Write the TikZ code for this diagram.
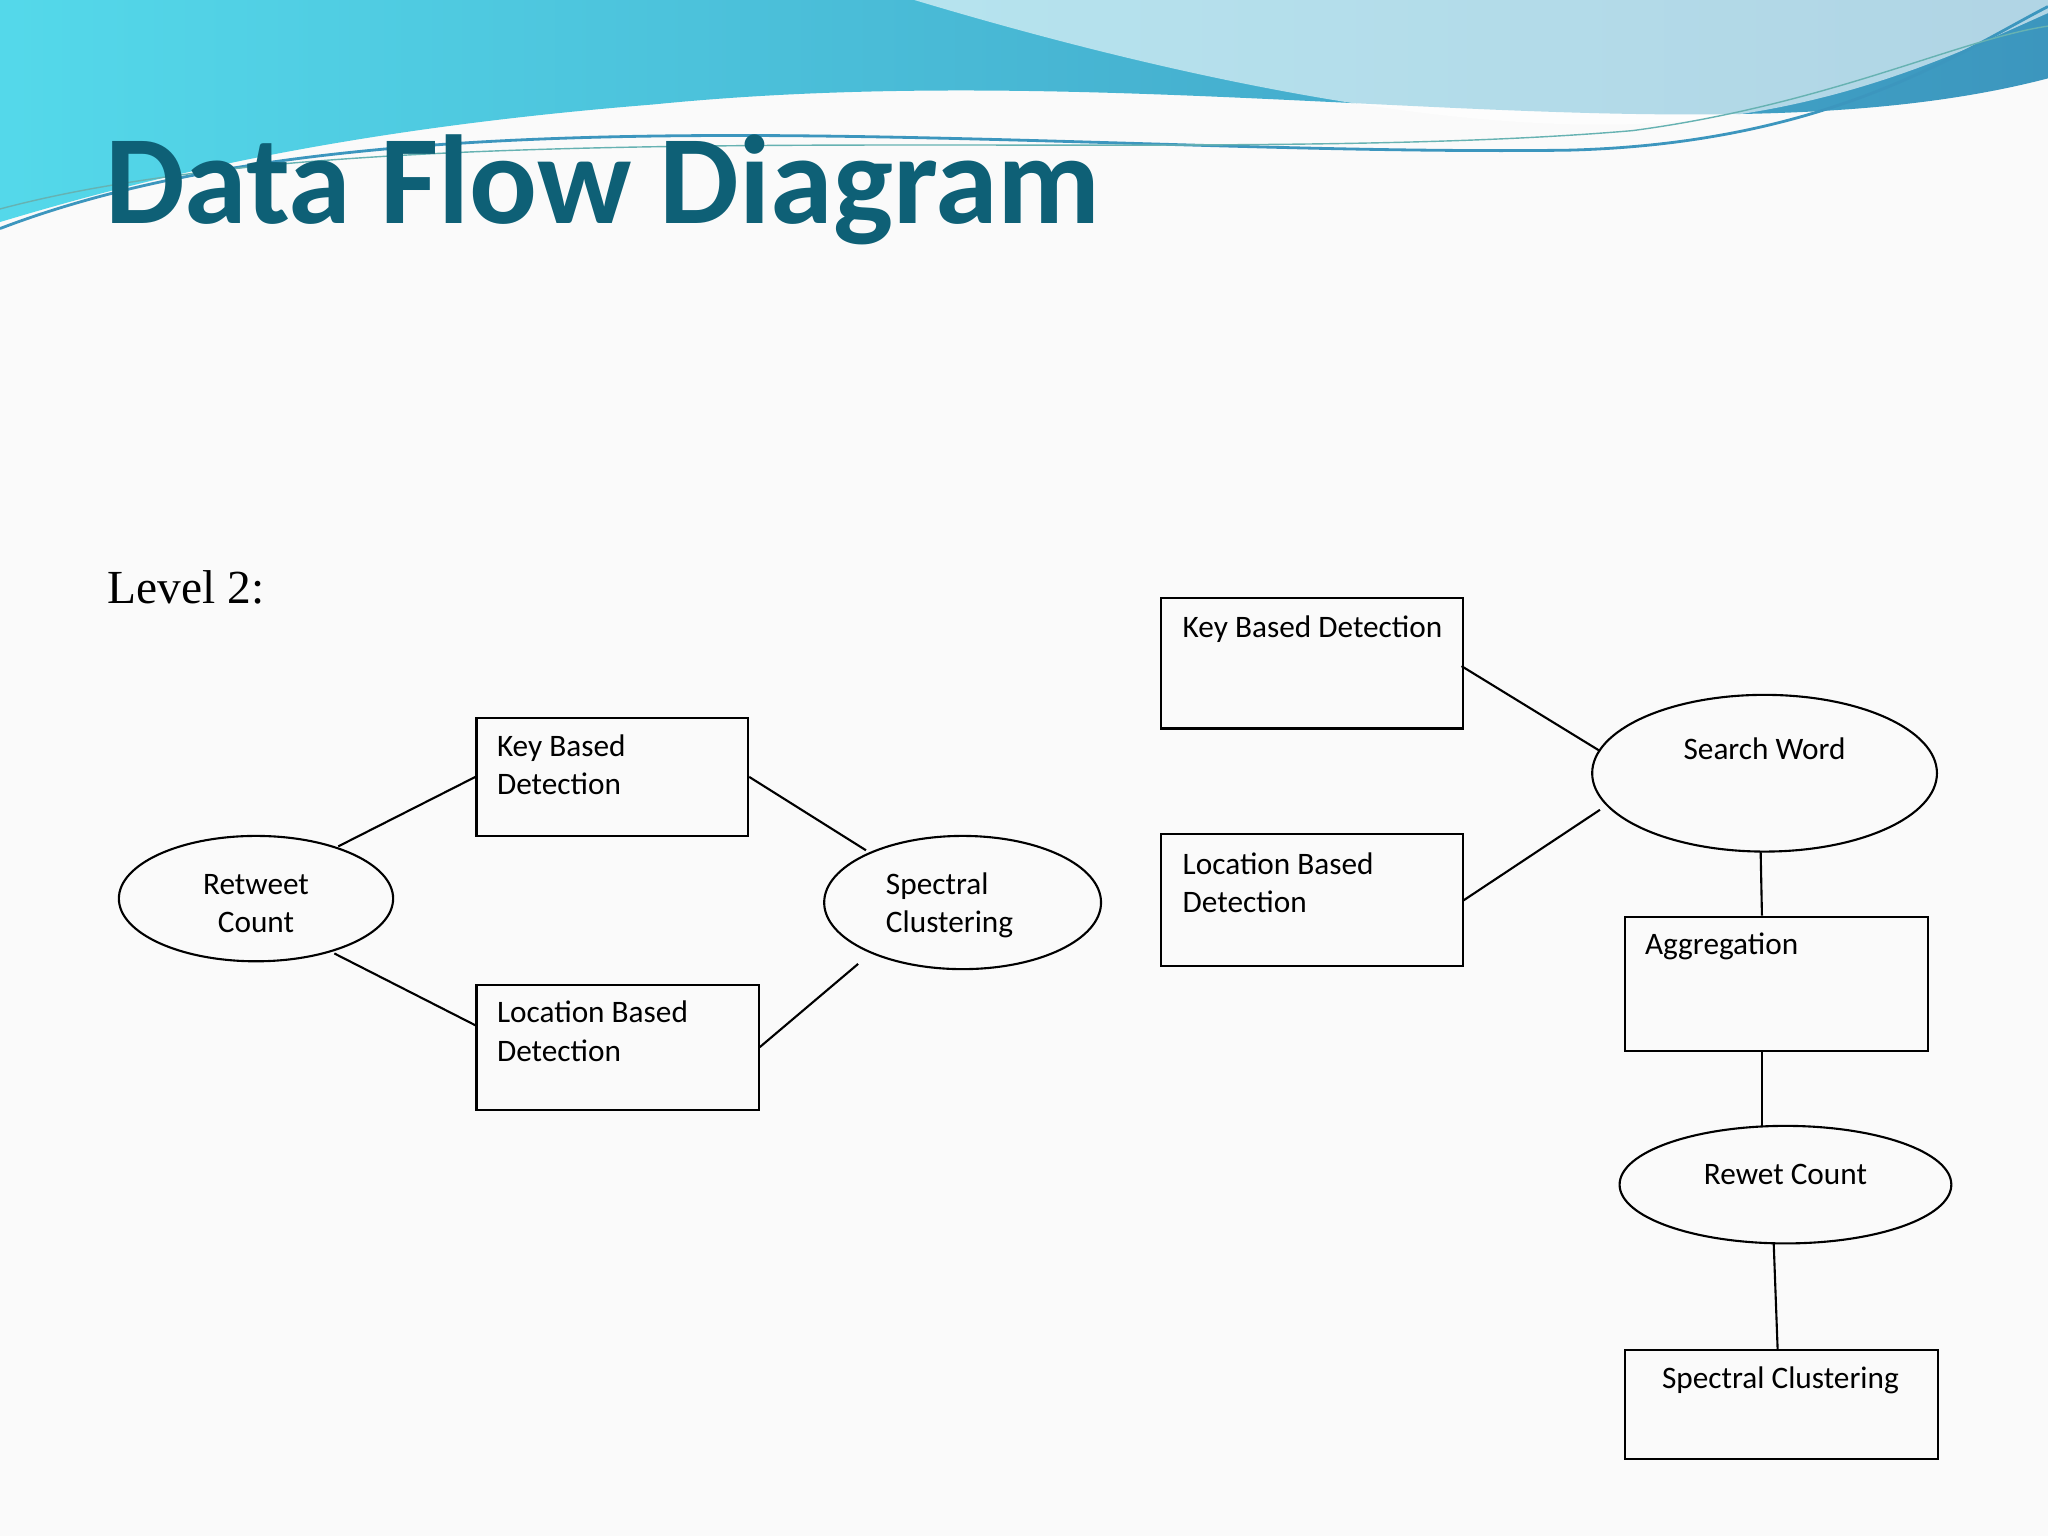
\documentclass[tikz,border=0pt]{standalone}
\usepackage{fontspec}
\setmainfont{Carlito}
\newfontfamily\serif{Liberation Serif}
\usetikzlibrary{shapes.geometric}
\definecolor{titleteal}{RGB}{14,96,118}
\definecolor{waveA}{RGB}{120,200,225}
\definecolor{waveB}{RGB}{60,150,190}
\begin{document}
\begin{tikzpicture}[x=0.01306cm, y=-0.01306cm,
    w/.style={minimum width=#1*0.3716pt},
    h/.style={minimum height=#1*0.3716pt},
    box/.style={draw, line width=0.6pt, rectangle, anchor=north west, inner sep=0pt},
    proc/.style={draw, line width=0.6pt, ellipse, inner sep=0pt},
    lbl/.style={anchor=north west, align=left, font=\fontsize{8.9}{10.9}\selectfont, inner sep=0pt},
    plbl/.style={align=center, font=\fontsize{8.9}{10.9}\selectfont, inner sep=0pt},
    flow/.style={line width=0.6pt}]
    \useasboundingbox[fill=gray!4] (0,0) rectangle (1568,1176);
    % header wave
    \shade[left color=waveA!70!cyan, right color=waveB] (0,0) -- (1568,0) -- (1568,60)
        .. controls (1300,130) and (900,40) .. (500,80) .. controls (250,100) and (100,140) .. (0,170) -- cycle;
    \fill[white, opacity=0.6] (700,0) .. controls (900,60) and (1100,100) .. (1250,95)
        .. controls (1400,90) and (1500,40) .. (1568,10) -- (1568,0) -- cycle;
    \draw[waveB, thick] (0,175) .. controls (300,60) and (800,120) .. (1200,115) .. controls (1400,110) and (1500,40) .. (1568,5);
    \draw[teal!60, thin] (0,160) .. controls (300,80) and (900,130) .. (1250,100) .. controls (1400,80) and (1500,30) .. (1568,20);

    \node[anchor=west, inner sep=0pt, text=titleteal, font=\fontsize{36}{40}\bfseries\selectfont] (title) at (80,145) {Data Flow Diagram};
    \node[anchor=west, inner sep=0pt, font=\serif\fontsize{13.5}{15}\selectfont] (level) at (82,450) {Level 2:};

    % left diagram
    \node[proc, w=210, h=96] (rc) at (196,688) {};
    \node[plbl] (rct) at (196,692) {Retweet\\Count};
    \node[box, w=208, h=90] (kb) at (364,549) {};
    \node[lbl] (kbt) at (380,562) {Key Based\\Detection};
    \node[box, w=216, h=96] (lb) at (364,753) {};
    \node[lbl] (lbt) at (380,766) {Location Based\\Detection};
    \node[proc, w=212, h=102] (sc) at (737,691) {};
    \node[plbl, align=left] (sct) at (727,693) {Spectral\\Clustering};
    \coordinate (rc-up) at (259,648);
    \coordinate (rc-dn) at (256,730);
    \coordinate (sc-up) at (663,651);
    \coordinate (sc-dn) at (657,738);
    \draw[flow] (rc-up) -- (kb.west);
    \draw[flow] (rc-dn) -- (364,785);
    \draw[flow] (kb.east) -- (sc-up);
    \draw[flow] (lb.east) -- (sc-dn);

    % right diagram
    \node[box, w=231, h=100] (kb2) at (888,457) {};
    \node[lbl] (kb2t) at (905,471) {Key Based Detection};
    \node[box, w=231, h=101] (lb2) at (888,638) {};
    \node[lbl] (lb2t) at (905,652) {Location Based\\Detection};
    \node[proc, w=264, h=120] (sw) at (1351,592) {};
    \node[plbl] (swt) at (1351,573) {Search Word};
    \node[box, w=232, h=103] (ag) at (1243,701) {};
    \node[lbl] (agt) at (1259,714) {Aggregation};
    \node[proc, w=254, h=90] (rw) at (1367,907) {};
    \node[plbl] (rwt) at (1367,899) {Rewet Count};
    \node[box, w=240, h=83] (sc2) at (1243,1033) {};
    \node[lbl] (sc2t) at (1272,1046) {Spectral Clustering};
    \coordinate (sw-up) at (1225,575);
    \coordinate (sw-dn) at (1225,620);
    \coordinate (sw-bt) at (1348,652);
    \coordinate (rw-bt) at (1358,952);
    \draw[flow] (1119,510) -- (sw-up);
    \draw[flow] (lb2.east) -- (sw-dn);
    \draw[flow] (sw-bt) -- (1349,701);
    \draw[flow] (1349,804) -- (1349,862);
    \draw[flow] (rw-bt) -- (1361,1033);
\end{tikzpicture}
\end{document}
